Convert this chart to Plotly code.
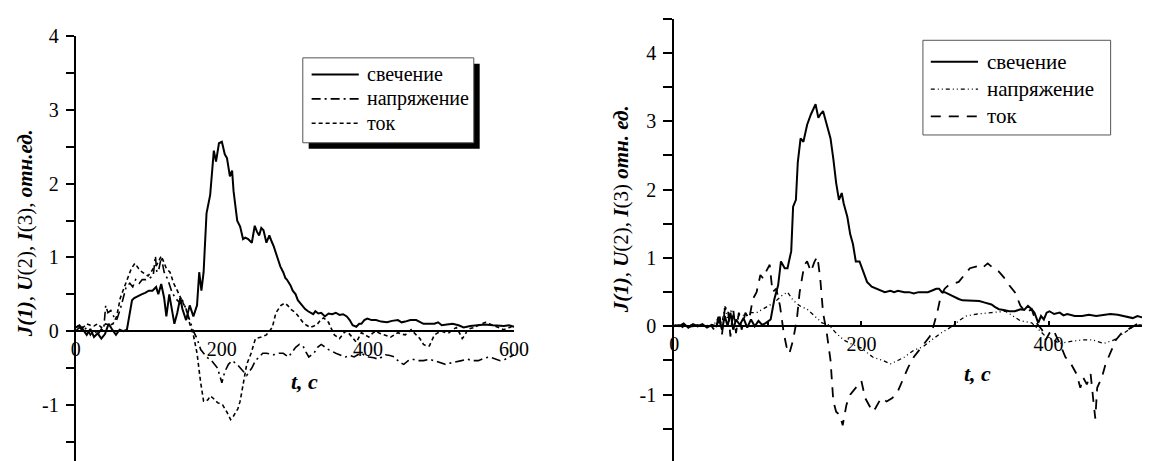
import plotly.graph_objects as go

# ---------------- data (t, value) ----------------
left_glow = [(0,0.05),(5,0.08),(10,0.02),(15,-0.05),(20,0.03),(25,-0.08),(30,-0.03),(35,-0.1),(40,-0.04),(45,0.1),(50,0.02),(55,-0.05),(60,0.02),(65,0.0),(70,0.02),(74,0.25),(77,0.42),(80,0.45),(85,0.48),(90,0.5),(95,0.52),(100,0.55),(105,0.55),(110,0.6),(113,0.5),(117,0.64),(121,0.45),(124,0.2),(128,0.5),(131,0.35),(135,0.1),(139,0.25),(143,0.45),(146,0.3),(151,0.15),(156,0.35),(161,0.2),(166,0.35),(169,0.8),(172,0.55),(175,0.8),(179,1.6),(184,1.85),(189,2.45),(192,2.3),(196,2.55),(200,2.57),(204,2.4),(207,2.35),(211,2.1),(214,2.18),(216,1.9),(221,1.5),(225,1.42),(229,1.25),(232,1.27),(236,1.25),(241,1.2),(245,1.43),(248,1.35),(251,1.3),(254,1.4),(257,1.37),(261,1.2),(265,1.3),(268,1.22),(271,1.15),(276,1.0),(280,0.88),(284,0.8),(287,0.72),(289,0.7),(294,0.62),(297,0.55),(301,0.5),(304,0.42),(307,0.38),(311,0.33),(314,0.3),(318,0.27),(321,0.25),(325,0.23),(328,0.27),(332,0.24),(336,0.25),(341,0.2),(346,0.24),(351,0.23),(356,0.25),(361,0.22),(366,0.23),(371,0.2),(375,0.15),(379,0.08),(384,0.06),(388,0.1),(391,0.1),(395,0.15),(399,0.17),(405,0.15),(411,0.15),(418,0.13),(426,0.12),(433,0.14),(441,0.15),(446,0.12),(451,0.13),(458,0.15),(466,0.15),(471,0.12),(476,0.1),(484,0.1),(491,0.1),(496,0.12),(501,0.08),(508,0.09),(516,0.1),(524,0.08),(531,0.05),(540,0.07),(551,0.08),(560,0.09),(571,0.08),(580,0.07),(586,0.07),(593,0.08),(600,0.06)]

left_voltage = [(0,0.0),(5,0.05),(10,0.0),(15,0.05),(20,-0.05),(25,0.02),(30,-0.05),(35,0.03),(38,0.0),(41,0.35),(44,0.25),(48,0.28),(52,0.2),(56,0.15),(61,0.3),(65,0.45),(69,0.6),(74,0.65),(78,0.6),(82,0.7),(87,0.65),(91,0.7),(96,0.7),(101,0.72),(106,0.75),(109,1.02),(111,0.8),(114,0.85),(117,1.0),(121,0.8),(126,0.7),(131,0.55),(136,0.45),(141,0.4),(146,0.42),(151,0.3),(156,0.15),(161,0.0),(166,-0.1),(171,-0.25),(175,-0.3),(179,-0.35),(186,-0.4),(194,-0.5),(200,-0.7),(204,-0.55),(209,-0.45),(214,-0.4),(221,-0.45),(229,-0.55),(234,-0.6),(241,-0.5),(246,-0.4),(251,-0.35),(256,-0.3),(261,-0.3),(271,-0.32),(278,-0.3),(284,-0.3),(291,-0.35),(296,-0.28),(301,-0.22),(306,-0.18),(311,-0.2),(315,-0.28),(319,-0.35),(326,-0.3),(331,-0.22),(336,-0.18),(341,-0.22),(346,-0.25),(356,-0.3),(362,-0.32),(369,-0.35),(375,-0.33),(381,-0.35),(386,-0.32),(391,-0.3),(396,-0.33),(401,-0.35),(408,-0.36),(414,-0.38),(419,-0.35),(424,-0.32),(430,-0.33),(436,-0.35),(443,-0.42),(449,-0.45),(455,-0.4),(461,-0.38),(468,-0.4),(476,-0.4),(484,-0.38),(491,-0.4),(498,-0.43),(506,-0.45),(514,-0.43),(521,-0.42),(528,-0.4),(536,-0.38),(543,-0.4),(551,-0.4),(558,-0.37),(566,-0.35),(574,-0.38),(581,-0.4),(588,-0.38),(594,-0.35),(600,-0.32)]

left_current = [(0,0.05),(5,0.08),(10,0.05),(15,0.1),(20,0.08),(25,0.07),(30,0.1),(35,0.05),(41,0.1),(46,0.08),(51,0.1),(56,0.2),(61,0.45),(65,0.55),(69,0.65),(72,0.75),(76,0.85),(81,0.92),(86,0.85),(91,0.8),(95,0.78),(99,0.75),(103,0.8),(106,0.85),(111,0.9),(117,1.02),(120,0.95),(124,0.85),(129,0.8),(134,0.65),(139,0.55),(143,0.45),(146,0.4),(151,0.3),(156,0.1),(161,-0.05),(166,-0.3),(171,-0.7),(175,-0.95),(178,-0.95),(181,-0.93),(184,-0.88),(187,-0.9),(194,-0.97),(201,-1.0),(207,-1.1),(212,-1.2),(216,-1.15),(219,-1.1),(222,-1.05),(225,-0.95),(229,-0.7),(234,-0.45),(240,-0.3),(246,-0.1),(254,-0.08),(261,-0.05),(269,0.05),(274,0.25),(281,0.35),(286,0.38),(290,0.35),(294,0.3),(301,0.25),(306,0.18),(311,0.12),(316,0.08),(321,0.05),(326,0.07),(331,0.1),(335,0.15),(339,0.18),(343,0.15),(346,0.12),(350,0.03),(354,-0.05),(361,-0.1),(365,-0.05),(369,0.0),(373,-0.02),(376,-0.05),(380,-0.1),(384,-0.15),(388,-0.08),(391,-0.02),(396,-0.05),(401,-0.08),(406,-0.03),(411,0.0),(416,-0.03),(421,-0.05),(426,-0.07),(431,-0.08),(436,-0.05),(441,-0.02),(446,-0.04),(451,-0.05),(455,-0.02),(459,0.02),(463,-0.02),(466,-0.05),(471,-0.1),(476,-0.18),(480,-0.2),(484,-0.2),(488,-0.12),(491,-0.05),(496,-0.02),(501,0.0),(506,-0.02),(511,-0.02),(516,0.02),(521,0.05),(525,-0.02),(529,-0.1),(533,-0.05),(536,0.02),(541,0.04),(546,0.05),(551,0.08),(556,0.1),(561,0.12),(566,0.1),(571,0.08),(576,0.05),(581,0.03),(586,0.02),(590,0.04),(594,0.05),(600,0.08)]

right_glow = [(0,0.02),(5,0.0),(10,0.04),(15,-0.02),(20,0.03),(25,0.0),(30,0.03),(35,-0.02),(40,0.02),(45,0.0),(48,0.1),(51,-0.05),(54,0.15),(57,0.0),(60,0.2),(63,-0.05),(66,0.1),(70,0.02),(74,0.12),(78,-0.02),(82,0.1),(86,0.0),(90,0.08),(94,0.02),(98,0.05),(103,0.1),(107,0.4),(111,0.6),(114,0.95),(118,0.85),(121,0.85),(125,1.1),(127,1.75),(130,1.85),(132,2.4),(135,2.75),(138,2.7),(142,2.95),(146,3.1),(149,3.2),(151,3.25),(154,3.05),(156,3.1),(159,3.15),(163,2.95),(167,2.75),(170,2.45),(173,2.1),(176,1.85),(179,1.95),(181,1.8),(185,1.6),(188,1.35),(191,1.2),(194,0.95),(198,0.95),(202,0.8),(206,0.65),(211,0.58),(217,0.55),(221,0.52),(225,0.5),(231,0.52),(235,0.5),(239,0.52),(246,0.5),(251,0.5),(256,0.48),(261,0.5),(266,0.5),(271,0.5),(275,0.52),(280,0.55),(283,0.55),(286,0.5),(289,0.5),(293,0.47),(297,0.45),(304,0.4),(308,0.38),(312,0.38),(320,0.38),(326,0.37),(331,0.35),(335,0.33),(339,0.32),(343,0.28),(347,0.25),(352,0.24),(358,0.22),(364,0.22),(370,0.25),(374,0.24),(378,0.3),(382,0.25),(385,0.2),(389,0.05),(392,0.15),(395,0.1),(398,0.2),(401,0.22),(406,0.18),(412,0.2),(416,0.16),(420,0.18),(428,0.15),(436,0.15),(443,0.17),(451,0.15),(458,0.16),(466,0.18),(474,0.17),(482,0.15),(490,0.12),(495,0.15),(500,0.13)]

right_voltage = [(0,0.0),(8,0.01),(16,-0.01),(24,0.01),(32,0.0),(40,0.02),(44,0.05),(48,0.15),(51,0.05),(54,0.3),(57,0.1),(61,0.25),(65,0.05),(70,0.18),(76,0.15),(82,0.2),(88,0.2),(94,0.25),(100,0.3),(107,0.35),(115,0.45),(121,0.5),(127,0.38),(134,0.3),(142,0.25),(150,0.15),(158,0.05),(165,0.02),(173,-0.1),(181,-0.2),(188,-0.25),(200,-0.32),(212,-0.45),(223,-0.5),(231,-0.55),(239,-0.5),(246,-0.45),(256,-0.35),(266,-0.3),(275,-0.2),(285,-0.1),(297,0.0),(304,0.08),(312,0.15),(324,0.18),(339,0.2),(354,0.22),(362,0.15),(370,0.08),(382,0.05),(389,-0.05),(397,-0.15),(405,-0.2),(412,-0.25),(424,-0.22),(436,-0.2),(447,-0.2),(459,-0.25),(470,-0.2),(478,-0.12),(486,-0.05),(491,0.0),(497,0.02),(500,0.02)]

right_current = [(0,0.0),(5,0.02),(10,-0.02),(15,0.03),(20,0.0),(25,0.02),(30,-0.03),(35,0.01),(40,0.0),(44,-0.08),(48,0.2),(51,-0.12),(54,0.25),(57,0.3),(60,-0.15),(63,0.25),(66,-0.1),(69,0.2),(72,-0.05),(76,0.2),(80,0.1),(84,0.4),(88,0.5),(92,0.75),(95,0.7),(98,0.8),(102,0.9),(105,0.5),(109,0.55),(113,0.3),(117,-0.1),(120,-0.3),(123,-0.4),(127,-0.2),(131,0.1),(134,0.5),(139,0.9),(142,0.95),(146,0.8),(150,0.95),(153,1.02),(156,0.7),(159,0.2),(163,-0.1),(167,-0.5),(170,-1.1),(173,-1.25),(177,-1.3),(180,-1.45),(184,-1.15),(188,-1.0),(194,-0.9),(200,-0.8),(204,-1.05),(208,-1.15),(212,-1.25),(215,-1.2),(221,-1.05),(227,-1.1),(233,-1.05),(239,-0.95),(244,-0.8),(250,-0.6),(256,-0.45),(262,-0.35),(268,-0.25),(273,-0.15),(277,0.0),(281,0.2),(285,0.45),(289,0.55),(293,0.6),(297,0.62),(304,0.65),(310,0.75),(316,0.85),(324,0.88),(329,0.85),(335,0.92),(341,0.85),(347,0.8),(352,0.72),(358,0.6),(364,0.5),(370,0.3),(376,0.2),(382,0.25),(387,0.05),(393,-0.05),(397,-0.2),(401,-0.1),(405,-0.05),(412,-0.25),(418,-0.45),(424,-0.55),(430,-0.7),(434,-0.9),(437,-0.75),(441,-0.85),(445,-0.7),(448,-1.1),(450,-1.35),(452,-0.9),(457,-0.75),(461,-0.55),(466,-0.4),(472,-0.2),(478,-0.1),(484,-0.05),(490,0.0),(497,0.05),(500,0.06)]

series_names = ["свечение", "напряжение", "ток"]
left_xticks = [0, 200, 400, 600]
right_xticks = [0, 100, 200, 300, 400, 500]
right_xticktext = ["0", "", "200", "", "400", ""]
yticks_left = [-1.5, -1, -0.5, 0, 0.5, 1, 1.5, 2, 2.5, 3, 3.5, 4]
yticks_right = [-1.5, -1, -0.5, 0, 0.5, 1, 1.5, 2, 2.5, 3, 3.5, 4, 4.5]

def ticktext(vals):
    return [str(int(v)) if float(v).is_integer() else "" for v in vals]

W, H = 1162, 461
FONT = "Liberation Serif"
def px(x): return x / W
def py(y): return 1 - y / H

fig = go.Figure()

left_styles = [dict(color="black", width=2, dash="solid"),
               dict(color="black", width=1.6, dash="9px,4px,2px,4px"),
               dict(color="black", width=1.6, dash="4px,3px")]
right_styles = [dict(color="black", width=2, dash="solid"),
                dict(color="black", width=1.3, dash="4px,3px,1px,3px,1px,3px"),
                dict(color="black", width=1.8, dash="10px,8px")]

for data, name, st in zip([left_glow, left_voltage, left_current], series_names, left_styles):
    fig.add_trace(go.Scatter(x=[p[0] for p in data], y=[p[1] for p in data], mode="lines",
                             name=name, line=st, showlegend=False, xaxis="x", yaxis="y"))
for data, name, st in zip([right_glow, right_voltage, right_current], series_names, right_styles):
    fig.add_trace(go.Scatter(x=[p[0] for p in data], y=[p[1] for p in data], mode="lines",
                             name=name, line=st, showlegend=False, xaxis="x2", yaxis="y2"))

tickfont = dict(family=FONT, size=20, color="black")
L_dom = [px(72), px(518)]
R_dom = [px(681), px(1157)]
L_yr = [-(461 - 328) / 75.5, 4.0]
R_yr = [-(461 - 323) / 70.0, 4.5]
L_ydom = [0, py(26)]
R_ydom = [0, py(8)]

fig.update_layout(
    width=W, height=H, margin=dict(l=0, r=0, t=0, b=0),
    paper_bgcolor="white", plot_bgcolor="rgba(0,0,0,0)",
    showlegend=False, hovermode=False, font=dict(family=FONT, color="black"),
    xaxis=dict(domain=L_dom, range=[0, 600], anchor="free", position=py(328),
               showline=True, linecolor="black", linewidth=1.5, ticks="",
               tickvals=left_xticks, ticktext=[str(v) for v in left_xticks],
               tickfont=tickfont, showgrid=False, zeroline=False),
    yaxis=dict(domain=L_ydom, range=L_yr, anchor="x", showline=True, linecolor="black",
               linewidth=2, ticks="outside", ticklen=8, tickwidth=1.5, tickcolor="black",
               tickvals=yticks_left, ticktext=ticktext(yticks_left), tickfont=tickfont,
               ticklabelstandoff=3, showgrid=False, zeroline=False),
    xaxis3=dict(overlaying="x", side="top", anchor="y", range=[0, 600], showline=True,
                linecolor="black", linewidth=1, ticks="inside", ticklen=6, tickwidth=1.5,
                tickvals=[200, 400], showticklabels=False, showgrid=False, zeroline=False),
    yaxis3=dict(overlaying="y", side="right", anchor="x", range=L_yr, showline=True,
                linecolor="#666666", linewidth=1.5, ticks="", showticklabels=False,
                showgrid=False, zeroline=False),
    xaxis2=dict(domain=R_dom, range=[0, 500], anchor="free", position=py(323),
                showline=True, linecolor="black", linewidth=1.5, ticks="inside", ticklen=5,
                tickwidth=1.5, tickcolor="black", tickvals=right_xticks, ticktext=right_xticktext,
                tickfont=tickfont, showgrid=False, zeroline=False),
    yaxis2=dict(domain=R_ydom, range=R_yr, anchor="x2", showline=True, linecolor="black",
                linewidth=2, ticks="outside", ticklen=9, tickwidth=1.5, tickcolor="black",
                tickvals=yticks_right, ticktext=ticktext(yticks_right), tickfont=tickfont,
                ticklabelstandoff=3, showgrid=False, zeroline=False),
    xaxis4=dict(overlaying="x2", side="top", anchor="y2", range=[0, 500], showline=True,
                linecolor="black", linewidth=1.5, ticks="inside", ticklen=6, tickwidth=1.5,
                tickvals=[100, 200, 300, 400], showticklabels=False, showgrid=False, zeroline=False),
    yaxis4=dict(overlaying="y2", side="right", anchor="x2", range=R_yr, showline=True,
                linecolor="black", linewidth=1.5, ticks="inside", ticklen=6, tickwidth=1.5,
                tickvals=yticks_right, showticklabels=False, showgrid=False, zeroline=False),
)

shapes = []
ann = []
# ---- left legend (box with shadow) ----
shapes.append(dict(type="rect", xref="paper", yref="paper", x0=px(309), x1=px(483), y0=py(141), y1=py(54),
                   fillcolor="black", line=dict(width=0), layer="above"))
shapes.append(dict(type="rect", xref="paper", yref="paper", x0=px(303), x1=px(477), y0=py(135), y1=py(48),
                   fillcolor="white", line=dict(color="#555555", width=1), layer="above"))
for i, (name, st) in enumerate(zip(series_names, left_styles)):
    yy = 65 + 25 * i
    shapes.append(dict(type="line", xref="paper", yref="paper", x0=px(312), x1=px(360), y0=py(yy), y1=py(yy),
                       line=dict(color="black", width=st["width"], dash=st["dash"]), layer="above"))
    ann.append(dict(x=px(366), y=py(yy), xref="paper", yref="paper", text=name, showarrow=False,
                    xanchor="left", yanchor="middle", font=dict(family=FONT, size=20, color="black")))
# ---- right legend ----
shapes.append(dict(type="rect", xref="paper", yref="paper", x0=px(934), x1=px(1125), y0=py(127), y1=py(30),
                   fillcolor="white", line=dict(color="#555555", width=1), layer="above"))
for i, (name, st) in enumerate(zip(series_names, right_styles)):
    yy = 52 + 28 * i
    shapes.append(dict(type="line", xref="paper", yref="paper", x0=px(942), x1=px(990), y0=py(yy), y1=py(yy),
                       line=dict(color="black", width=st["width"], dash=st["dash"]), layer="above"))
    ann.append(dict(x=px(997), y=py(yy), xref="paper", yref="paper", text=name, showarrow=False,
                    xanchor="left", yanchor="middle", font=dict(family=FONT, size=21, color="black")))

# ---- axis titles ----
titlefont = dict(family=FONT, size=22, color="black")
ann.append(dict(x=px(305), y=py(380), xref="paper", yref="paper", text="<b><i>t, c</i></b>",
                showarrow=False, xanchor="center", yanchor="middle", font=titlefont))
ann.append(dict(x=px(990), y=py(371), xref="paper", yref="paper", text="<b><i>t, c</i></b>",
                showarrow=False, xanchor="center", yanchor="middle", font=titlefont))
ann.append(dict(x=px(20), y=py(228), xref="paper", yref="paper", textangle=-90,
                text="<b><i>J(1)</i></b>, <b><i>U</i></b>(2), <b><i>I</i></b>(3), <b><i>отн.ед.</i></b>",
                showarrow=False, xanchor="center", yanchor="middle", font=dict(family=FONT, size=21, color="black")))
ann.append(dict(x=px(627), y=py(203), xref="paper", yref="paper", textangle=-90,
                text="<b><i>J(1)</i></b>, <b><i>U</i></b>(2), <b><i>I</i></b>(3) <b><i>отн. ед.</i></b>",
                showarrow=False, xanchor="center", yanchor="middle", font=dict(family=FONT, size=21, color="black")))

fig.update_layout(shapes=shapes, annotations=ann)
# remove the browser's default 8px body margin so the figure fills the window exactly
fig.write_html("out.html", config={"displayModeBar": False},
               post_script="document.body.style.margin='0';document.body.style.overflow='hidden';")
